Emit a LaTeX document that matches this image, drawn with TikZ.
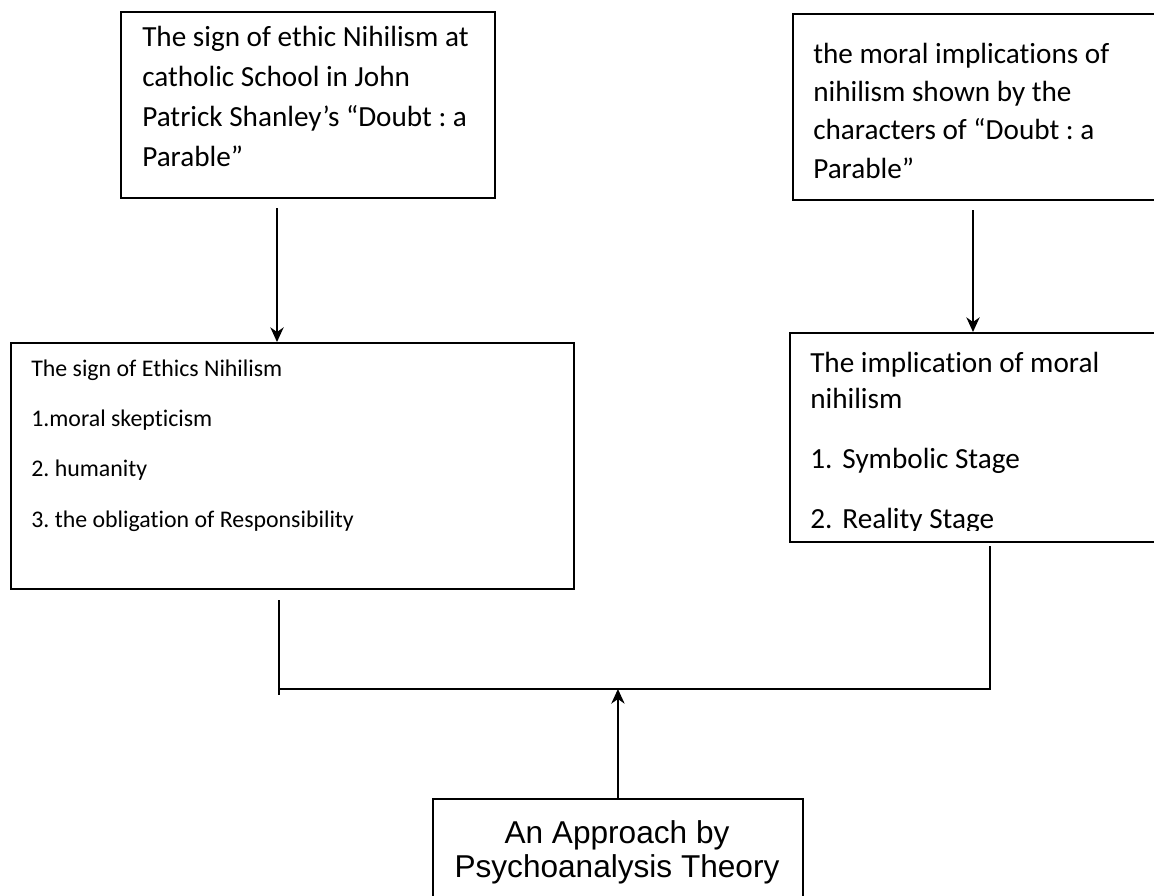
\documentclass[tikz,border=0pt]{standalone}
\usepackage{fontspec}
\setmainfont{Carlito}[Ligatures=NoCommon]
\newfontfamily\arialfont{Liberation Sans}
\usetikzlibrary{arrows.meta}
\frenchspacing

\tikzset{
  box/.style={draw, line width=1.4pt, inner sep=0pt, anchor=north west},
  txt/.style={anchor=base west, align=left, inner sep=0pt},
  conn/.style={line width=1.1pt},
  arr/.style={conn, -{Stealth[length=11pt, width=10pt, inset=3.5pt]}}
}

\begin{document}
\begin{tikzpicture}[x=0.75pt, y=-0.75pt]
  \useasboundingbox (0,0) rectangle (1154,896);

  % Boxes
  \node[box, minimum width=280.5pt, minimum height=139.5pt] (signbox) at (120,11) {};
  \node[box, minimum width=276pt, minimum height=139.5pt] (moralbox) at (792,13) {};
  \node[box, minimum width=422.25pt, minimum height=184.5pt] (ethicsbox) at (10,342) {};
  \node[box, minimum width=278.25pt, minimum height=156.75pt] (implbox) at (789,332) {};
  \node[box, minimum width=277.5pt, minimum height=84pt] (approachbox) at (432,798) {};

  % Texts (placed at the baseline of their last line)
  \node[txt, font={\fontsize{21.9pt}{30pt}\selectfont}] (signtext) at (142,166)
    {The sign of ethic Nihilism at\\catholic School in John\\Patrick Shanley’s “Doubt : a\\Parable”};
  \node[txt, font={\fontsize{21.9pt}{28.75pt}\selectfont}] (moraltext) at (813,178)
    {the moral implications of\\nihilism shown by the\\characters of “Doubt : a\\Parable”};
  \node[txt, font={\fontsize{17.9pt}{37.75pt}\selectfont}] (ethicstext) at (31,527)
    {The sign of Ethics Nihilism\\1.moral skepticism\\2. humanity\\3. the obligation of Responsibility};
  \begin{scope}
    \clip (789,332) rectangle (1160,530);
    \node[txt, font={\fontsize{21.9pt}{27pt}\selectfont}] (impltext) at (810,528)
      {The implication of moral\\nihilism\\[18pt]1.\hspace{7.5pt}Symbolic Stage\\[18pt]2.\hspace{7.5pt}Reality Stage};
  \end{scope}
  \node[txt, anchor=base, align=center, font={\arialfont\fontsize{23.7pt}{25.5pt}\selectfont}] (approachtext) at (617,877)
    {An Approach by\\Psychoanalysis Theory};

  % Edges
  \coordinate (s1) at (277,208);
  \coordinate (s2) at (973,210);
  \coordinate (ltop) at (279,600);
  \coordinate (lbot) at (279,695);
  \coordinate (rtop) at (990,546);
  \coordinate (rjoin) at (990,689);
  \foreach \a/\b in {s1/ethicsbox, s2/implbox}
    \draw[arr] (\a) -- (\a |- \b.north);
  \draw[conn] (ltop) -- (lbot);
  \draw[conn] (rtop) -- (rjoin) -- (rjoin -| ltop);
  \draw[arr] (approachbox.north) -- (approachbox.north |- rjoin);
\end{tikzpicture}
\end{document}
